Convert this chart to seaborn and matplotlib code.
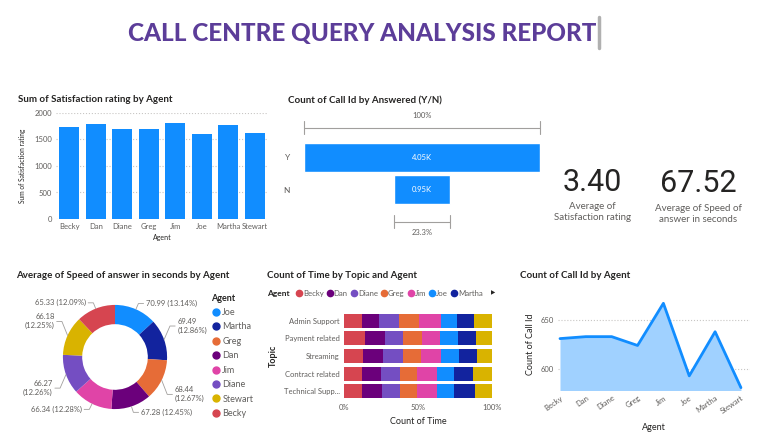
import matplotlib
matplotlib.use('Agg')
import matplotlib.pyplot as plt
import numpy as np
import pandas as pd
import seaborn as sns
from matplotlib.lines import Line2D

sns.set_theme(style='white')
plt.rcParams['font.family'] = ['Lato', 'DejaVu Sans']

# data
agents = ['Becky', 'Dan', 'Diane', 'Greg', 'Jim', 'Joe', 'Martha', 'Stewart']
satisfaction_sum = [1740, 1790, 1700, 1700, 1810, 1600, 1770, 1620]
call_count = [631, 633, 633, 624, 667, 593, 638, 581]

answered = ['Y', 'N']
answered_count = [4054, 946]

donut_agents = ['Joe', 'Martha', 'Greg', 'Dan', 'Jim', 'Diane', 'Stewart', 'Becky']
avg_speed = [70.99, 69.49, 68.44, 67.28, 66.34, 66.27, 66.18, 65.33]

topics = ['Admin Support', 'Payment related', 'Streaming', 'Contract related', 'Technical Supp...']
time_becky = [119, 142, 130, 121, 121]
time_dan = [119, 137, 135, 130, 137]
time_diane = [135, 121, 130, 130, 124]
time_greg = [133, 130, 128, 115, 115]
time_jim = [148, 117, 130, 135, 130]
time_joe = [108, 121, 121, 110, 115]
time_martha = [115, 124, 124, 130, 144]
time_stewart = [124, 108, 101, 128, 115]

kpi_satisfaction = 3.40
kpi_speed = 67.52

colors = {'Joe': '#118DFF', 'Martha': '#12239E', 'Greg': '#E66C37', 'Dan': '#6B007B',
          'Jim': '#E044A7', 'Diane': '#744EC2', 'Stewart': '#D9B300', 'Becky': '#D64550'}
BLUE = '#118DFF'
DARK = '#252423'
GREY = '#605E5C'

W, H = 768, 444
fig = plt.figure(figsize=(W / 100, H / 100), dpi=100)
fig.patch.set_facecolor('white')


def box(l, t, r, b):
    # pixel box -> figure fraction
    return [l / W, 1 - b / H, (r - l) / W, (b - t) / H]


def ftext(x, y, s, **kw):
    fig.text(x / W, 1 - y / H, s, **kw)


def clean(ax):
    for sp in ax.spines.values():
        sp.set_visible(False)
    ax.tick_params(length=0, colors=GREY)


# title
ftext(362, 33, 'CALL CENTRE QUERY ANALYSIS REPORT', ha='center', va='center',
      fontsize=17.5, fontweight='black', color='#5C3D99')
fig.add_artist(Line2D([599 / W, 599 / W], [1 - 17 / H, 1 - 48 / H], color='#B0B0B0', lw=2.5))

# --- bar chart: satisfaction
ax1 = fig.add_axes(box(56, 113, 268, 219))
sns.barplot(x=agents, y=satisfaction_sum, color=BLUE, saturation=1, width=0.77, ax=ax1,
            linewidth=0)
ax1.set_ylim(0, 2000)
ax1.set_xlim(-0.5, 7.5)
ax1.set_yticks([0, 500, 1000, 1500, 2000])
ax1.yaxis.grid(True, linestyle=':', color='#C8C6C4', lw=0.8)
ax1.set_axisbelow(True)
clean(ax1)
ax1.tick_params(labelsize=5.5, pad=3)
ax1.set_xlabel('Agent', fontsize=5, color=DARK, labelpad=3)
ax1.set_ylabel('Sum of Satisfaction rating', fontsize=4.8, color=DARK, labelpad=6)
ftext(18, 100, 'Sum of Satisfaction rating by Agent', fontsize=7, fontweight='bold',
      color=DARK, va='center')

# --- funnel
ax2 = fig.add_axes(box(304, 141, 540, 206))
top = max(answered_count)
lefts = [(top - v) / 2 for v in answered_count]
ax2.barh(range(len(answered)), answered_count, left=lefts, height=0.9, color=BLUE)
for i, v in enumerate(answered_count):
    ax2.text(lefts[i] + v / 2, i, f'{v / 1000:.2f}K', ha='center', va='center',
             fontsize=5.5, color='white')
ax2.set_ylim(1.5, -0.5)
ax2.set_xlim(0, top)
ax2.set_yticks(range(len(answered)))
ax2.set_yticklabels(answered)
ax2.set_xticks([])
clean(ax2)
ax2.tick_params(labelsize=6, pad=10)
bc = '#A19F9D'
for (x0, x1, yb, yt, lab) in [(0, top, -0.9, -1.3, '100%'),
                              (lefts[1], lefts[1] + answered_count[1], 1.99, 2.33,
                               f'{answered_count[1] / top * 100:.1f}%')]:
    ax2.plot([x0, x1], [yb, yb], color=bc, lw=0.8, clip_on=False)
    ax2.plot([x0, x0], [yb - 0.2, yb + 0.2], color=bc, lw=0.8, clip_on=False)
    ax2.plot([x1, x1], [yb - 0.2, yb + 0.2], color=bc, lw=0.8, clip_on=False)
    ax2.text((x0 + x1) / 2, yt, lab, ha='center', va='center', fontsize=5.5, color=GREY)
ftext(288, 100, 'Count of Call Id by Answered (Y/N)', fontsize=7, fontweight='bold',
      color=DARK, va='center')

# --- KPI cards
ftext(592, 182, f'{kpi_satisfaction:.2f}', fontsize=22, color=DARK, ha='center', va='center',
      family=['Roboto', 'DejaVu Sans'])
ftext(592, 212, 'Average of\nSatisfaction rating', fontsize=7, color=GREY, ha='center',
      va='center', linespacing=1.2)
ftext(698, 183, f'{kpi_speed:.2f}', fontsize=22, color=DARK, ha='center', va='center',
      family=['Roboto', 'DejaVu Sans'])
ftext(698, 214, 'Average of Speed of\nanswer in seconds', fontsize=7, color=GREY, ha='center',
      va='center', linespacing=1.2)

# --- donut
ax3 = fig.add_axes(box(40, 282, 190, 432))
wedges, _ = ax3.pie(avg_speed, colors=[colors[a] for a in donut_agents], startangle=90,
                    counterclock=False, wedgeprops=dict(width=0.37, linewidth=0))
ax3.set_xlim(-1.44, 1.44)
ax3.set_ylim(-1.44, 1.44)
ax3.set_aspect('equal')
total = sum(avg_speed)
for w, v in zip(wedges, avg_speed):
    ang = np.deg2rad((w.theta1 + w.theta2) / 2)
    cx, cy = np.cos(ang), np.sin(ang)
    sx = 1 if cx >= 0 else -1
    pct = v / total * 100
    if abs(cy) > 0.8:
        lab = f'{v:.2f} ({pct:.2f}%)'
        ex, ey = 1.12 * cx, 1.12 * cy
    else:
        # side labels are pushed away from the equator, as in the report
        lab = f'{v:.2f}\n({pct:.2f}%)'
        ex, ey = 1.12 * cx, 1.12 * cy + 0.22 * np.sign(cy)
    hx = ex + sx * 0.1
    ax3.plot([cx, ex, hx], [cy, ey, ey], color='#A19F9D', lw=0.6, clip_on=False)
    ax3.text(hx + sx * 0.04, ey, lab, ha='left' if sx > 0 else 'right', va='center',
             fontsize=5.5, color=GREY, linespacing=1.3, clip_on=False)
ftext(16, 276, 'Average of Speed of answer in seconds by Agent', fontsize=7,
      fontweight='bold', color=DARK, va='center')
h3 = [Line2D([], [], marker='o', ls='', color=colors[a], markersize=5) for a in donut_agents]
lg = fig.legend(h3, donut_agents, title='Agent', loc='upper left',
                bbox_to_anchor=(207 / W, 1 - 290 / H), frameon=False, fontsize=6.5,
                title_fontsize=6.5, handletextpad=0.1, labelspacing=0.6, alignment='left',
                borderaxespad=0, handlelength=1.2)
lg.get_title().set_fontweight('bold')
lg.get_title().set_color(DARK)
for t in lg.get_texts():
    t.set_color(GREY)

# --- 100% stacked bar
time_df = pd.DataFrame({'Becky': time_becky, 'Dan': time_dan, 'Diane': time_diane,
                        'Greg': time_greg, 'Jim': time_jim, 'Joe': time_joe,
                        'Martha': time_martha, 'Stewart': time_stewart}, index=topics)
share = time_df.div(time_df.sum(axis=1), axis=0) * 100
cum = share.cumsum(axis=1)
ax4 = fig.add_axes(box(344, 312, 492, 400))
for a in reversed(agents):
    sns.barplot(x=cum[a].values, y=topics, color=colors[a], saturation=1, orient='h',
                width=0.8, linewidth=0, ax=ax4)
ax4.set_xlim(0, 100)
ax4.set_xticks([0, 50, 100])
ax4.set_xticklabels(['0%', '50%', '100%'])
clean(ax4)
ax4.tick_params(labelsize=5.5, pad=3)
ax4.set_xlabel('Count of Time', fontsize=6.5, color=DARK, labelpad=4)
ax4.set_ylabel('Topic', fontsize=6.5, color=DARK, labelpad=4, fontweight='bold')
ftext(267, 276, 'Count of Time by Topic and Agent', fontsize=7, fontweight='bold',
      color=DARK, va='center')
ftext(267, 293, 'Agent', fontsize=6, fontweight='bold', color=DARK, va='center')
h4 = [Line2D([], [], marker='o', ls='', color=colors[a], markersize=4.5) for a in agents[:7]]
lg4 = fig.legend(h4, agents[:7], loc='center left', bbox_to_anchor=(292 / W, 1 - 293 / H),
                 frameon=False, fontsize=5.6, ncol=7, handletextpad=0, columnspacing=0.3,
                 borderaxespad=0, handlelength=1.0)
for t in lg4.get_texts():
    t.set_color(GREY)
ftext(491, 293, '\u25B6', fontsize=4, color=DARK, va='center', family=['DejaVu Sans'])

# --- area chart
ax5 = fig.add_axes(box(558, 298, 750, 390))
xs = np.arange(len(agents))
ax5.fill_between(xs, call_count, 560, color='#A0D1FF', lw=0)
sns.lineplot(x=xs, y=call_count, color=BLUE, lw=2, ax=ax5)
ax5.set_xlim(-0.077, 7.35)
ax5.set_ylim(578.6, 672.4)
ax5.set_yticks([600, 650])
ax5.set_xticks(xs)
ax5.set_xticklabels(agents, rotation=35, ha='right', rotation_mode='anchor')
ax5.yaxis.grid(True, linestyle=':', color='#C8C6C4', lw=0.8)
clean(ax5)
ax5.tick_params(labelsize=5.5, pad=3)
ax5.set_xlabel('Agent', fontsize=6.5, color=DARK, labelpad=6)
ax5.set_ylabel('Count of Call Id', fontsize=6.5, color=DARK, labelpad=4)
ftext(520, 276, 'Count of Call Id by Agent', fontsize=7, fontweight='bold',
      color=DARK, va='center')

fig.savefig('out.png', dpi=100, facecolor='white')
